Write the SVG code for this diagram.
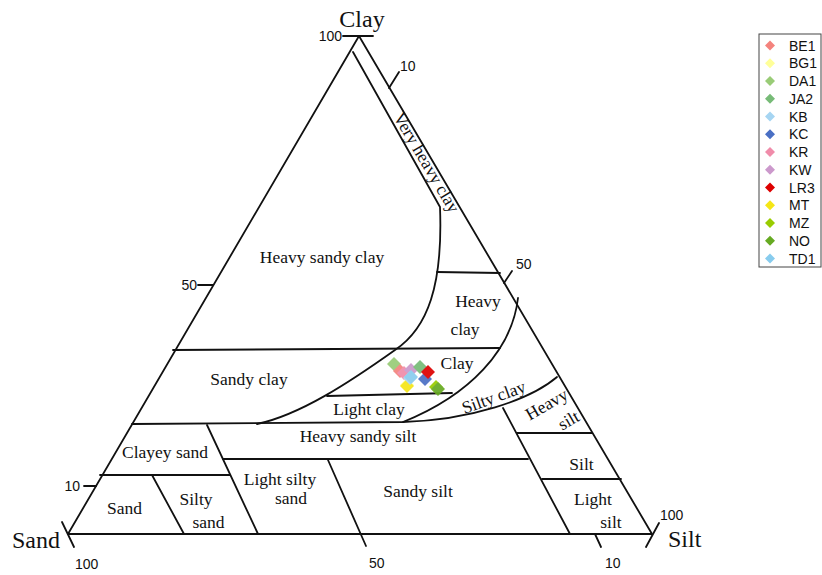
<svg xmlns="http://www.w3.org/2000/svg" width="822" height="575" viewBox="0 0 822 575">
<style>
.ln{fill:none;stroke:#111;stroke-width:1.8;stroke-linecap:round;stroke-linejoin:round}
.lb{font-family:"Liberation Serif","Times New Roman",serif;font-size:17.5px;fill:#111;text-anchor:middle}
.ax{font-family:"Liberation Serif","Times New Roman",serif;font-size:24px;fill:#111}
.tk{font-family:"Liberation Sans",Arial,sans-serif;font-size:14px;fill:#111}
.lg{font-family:"Liberation Sans",Arial,sans-serif;font-size:14px;fill:#111}
</style>
<defs>
<path id="dm" d="M0,-7 L7,0 L0,7 L-7,0 Z"/>
<path id="ds" d="M0,-5 L5,0 L0,5 L-5,0 Z"/>
</defs>
<rect width="822" height="575" fill="#fff"/>
<g id="frame">
<path class="ln" d="M68,534 L359,36 L652,534 Z"/>
<path class="ln" d="M62,522 L74,547 M659,523 L646,547 M343,36 L373,36 M84,486 L96,486 M198,285 L213,285 M389,88 L399,72 M504,283 L512,271 M595,534 L601,547"/>
</g>
<g id="boundaries">
<path class="ln" d="M353,52 L440,207 C443,285 428,328 395,350 C350,382 300,415 257,424"/>
<path class="ln" d="M437,272 L500,273"/>
<path class="ln" d="M518,298 C512,350 470,395 403,422"/>
<path class="ln" d="M173,350 L500,348"/>
<path class="ln" d="M327,396 L452,393"/>
<path class="ln" d="M132,424 L403,422 C470,420 530,400 557,377"/>
<path class="ln" d="M207,425 L258,534"/>
<path class="ln" d="M223,459 L528,459"/>
<path class="ln" d="M100,475 L230,475"/>
<path class="ln" d="M152,475 L184,534"/>
<path class="ln" d="M328,460 L366,546"/>
<path class="ln" d="M503,408 L570,534"/>
<path class="ln" d="M517,433 L592,433"/>
<path class="ln" d="M542,479 L621,479"/>
</g>
<g id="region-labels">
<text class="lb" x="426" y="163" transform="rotate(59.5 426 163)" dy="5">Very heavy clay</text>
<text class="lb" x="322" y="263">Heavy sandy clay</text>
<text class="lb" x="478" y="307">Heavy</text>
<text class="lb" x="465" y="335">clay</text>
<text class="lb" x="457" y="369">Clay</text>
<text class="lb" x="249" y="385">Sandy clay</text>
<text class="lb" x="369" y="415">Light clay</text>
<text class="lb" x="494" y="398" dy="5" transform="rotate(-20 494 398)">Silty clay</text>
<text class="lb" x="358" y="442">Heavy sandy silt</text>
<text class="lb" x="165" y="458">Clayey sand</text>
<text class="lb" x="124.5" y="514">Sand</text>
<text class="lb" x="196" y="505">Silty</text>
<text class="lb" x="208.5" y="528">sand</text>
<text class="lb" x="280" y="485">Light silty</text>
<text class="lb" x="291" y="504">sand</text>
<text class="lb" x="418" y="497">Sandy silt</text>
<text class="lb" x="547" y="405" dy="5" transform="rotate(-30 547 405)">Heavy</text>
<text class="lb" x="569" y="421" dy="5" transform="rotate(-30 569 421)">silt</text>
<text class="lb" x="581.5" y="470">Silt</text>
<text class="lb" x="593" y="505">Light</text>
<text class="lb" x="611" y="528">silt</text>
</g>
<g id="axis-labels">
<text class="ax" x="362" y="27" text-anchor="middle">Clay</text>
<text class="ax" x="12" y="548">Sand</text>
<text class="ax" x="668" y="547">Silt</text>
<text class="tk" x="342" y="41" text-anchor="end">100</text>
<text class="tk" x="400" y="71">10</text>
<text class="tk" x="197" y="290" text-anchor="end">50</text>
<text class="tk" x="80" y="491" text-anchor="end">10</text>
<text class="tk" x="516" y="269">50</text>
<text class="tk" x="660" y="520">100</text>
<text class="tk" x="75" y="569">100</text>
<text class="tk" x="369" y="568">50</text>
<text class="tk" x="605" y="568">10</text>
</g>
<g id="data" opacity="0.92">
<use href="#dm" x="394" y="364" fill="#99CC77"/>
<use href="#dm" x="400" y="371" fill="#F4837D"/>
<use href="#dm" x="404" y="373" fill="#F08CAA"/>
<use href="#dm" x="411" y="370" fill="#CC99CC"/>
<use href="#dm" x="407" y="385" fill="#FFFF99"/>
<use href="#dm" x="407" y="386" fill="#F5E616"/>
<use href="#dm" x="410" y="378" fill="#A6D5F2"/>
<use href="#dm" x="411" y="377" fill="#88CCEE"/>
<use href="#dm" x="420" y="367" fill="#77BB77"/>
<use href="#dm" x="425" y="379" fill="#4A6FC4"/>
<use href="#dm" x="428" y="372" fill="#DD0000"/>
<use href="#dm" x="436" y="387" fill="#99CC00"/>
<use href="#dm" x="438" y="389" fill="#66AA22"/>
</g>
<g id="legend">
<rect x="759" y="34" width="62" height="233" fill="#fff" stroke="#444" stroke-width="1"/>
<use href="#ds" x="770" y="45.5" fill="#F4837D"/><text class="lg" x="789" y="50.5">BE1</text>
<use href="#ds" x="770" y="63.3" fill="#FFFF99"/><text class="lg" x="789" y="68.3">BG1</text>
<use href="#ds" x="770" y="81" fill="#99CC77"/><text class="lg" x="789" y="86">DA1</text>
<use href="#ds" x="770" y="98.8" fill="#77BB77"/><text class="lg" x="789" y="103.8">JA2</text>
<use href="#ds" x="770" y="116.5" fill="#A6D5F2"/><text class="lg" x="789" y="121.5">KB</text>
<use href="#ds" x="770" y="134.3" fill="#4A6FC4"/><text class="lg" x="789" y="139.3">KC</text>
<use href="#ds" x="770" y="152" fill="#F08CAA"/><text class="lg" x="789" y="157">KR</text>
<use href="#ds" x="770" y="169.8" fill="#CC99CC"/><text class="lg" x="789" y="174.8">KW</text>
<use href="#ds" x="770" y="187.5" fill="#DD0000"/><text class="lg" x="789" y="192.5">LR3</text>
<use href="#ds" x="770" y="205.3" fill="#F5E616"/><text class="lg" x="789" y="210.3">MT</text>
<use href="#ds" x="770" y="223" fill="#99CC00"/><text class="lg" x="789" y="228">MZ</text>
<use href="#ds" x="770" y="240.8" fill="#66AA22"/><text class="lg" x="789" y="245.8">NO</text>
<use href="#ds" x="770" y="258.5" fill="#88CCEE"/><text class="lg" x="789" y="263.5">TD1</text>
</g>
</svg>
